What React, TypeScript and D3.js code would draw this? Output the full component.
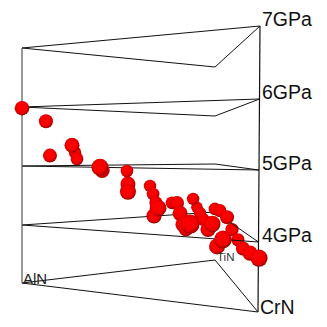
import React from 'react'
import * as d3 from 'd3'

const width = 327
const height = 327

const pressureTicks = [7, 6, 5, 4]
const pressureLabels = ['7GPa', '6GPa', '5GPa', '4GPa']

// share of CrN along the front edge, pressure in GPa, apparent sphere size
const crN = [
  0, 0.101, 0.118, 0.211, 0.224, 0.232, 0.338, 0.329, 0.443, 0.447, 0.447, 0.54, 0.553, 0.565,
  0.557, 0.574, 0.633, 0.654, 0.667, 0.679, 0.692, 0.709, 0.722, 0.738, 0.751, 0.764, 0.785, 0.802,
  0.814, 0.835, 0.865, 0.886, 0.823, 0.848, 0.911, 0.932, 0.962, 1
]
const gpa = [
  5.98, 5.75, 5.18, 5.35, 5.23, 5.13, 4.95, 5.0, 4.95, 4.75, 4.63, 4.73, 4.61, 4.48,
  4.28, 4.4, 4.49, 4.49, 4.34, 4.18, 4.12, 4.19, 4.56, 4.44, 4.36, 4.27, 4.13, 4.21,
  4.43, 4.41, 4.32, 4.15, 3.89, 4.0, 4.01, 3.89, 3.83, 3.77
]
const size = [
  7.3, 7, 7, 7.5, 6.2, 6.4, 7.5, 8.5, 6.3, 7.5, 8, 6.2, 6.4, 6.6,
  7.6, 8.4, 6.4, 7, 7.5, 7.5, 7.6, 9.6, 6.2, 5.8, 6.2, 6.4, 7.6, 8.4,
  6.3, 6.5, 7, 6.6, 8, 8.8, 6.6, 7, 7.6, 8.6
]
// spheres that sit behind the wire frame
const behindFrame = [31, 34]

// each corner of the prism has its own pressure scale
const levels = [3, 4, 5, 6, 7]
const leftY = d3.scaleLinear().domain(levels).range([283, 225, 166, 107, 48])
const rightY = d3.scaleLinear().domain(levels).range([312, 242, 170, 99, 26])
const backY = d3.scaleLinear().domain(levels).range([260, 212, 164, 116, 67])
const rightX = d3.scaleLinear().domain([3, 7]).range([258, 260])
const leftX = 22
const backX = 215

const frontX = d3.scaleLinear().domain([0, 1]).range([leftX, 259])

const line = d3.line()

const spheres = crN
  .map((c, i) => ({
    x: frontX(c),
    y: d3.interpolateNumber(leftY(gpa[i]), rightY(gpa[i]))(c),
    r: size[i],
    behind: behindFrame.includes(i)
  }))
  .sort((a, b) => d3.ascending(a.r, b.r))

const Sphere = ({ x, y, r }: { x: number; y: number; r: number }) => (
  <circle cx={x} cy={y} r={r} fill="url(#ball)" />
)

const App = () => {
  return (
    <svg
      width={width}
      height={height}
      style={{ position: 'absolute', left: 0, top: 0, fontFamily: '"Liberation Sans", Arial, sans-serif' }}
    >
      <defs>
        <radialGradient id="ball" cx="0.46" cy="0.44" r="0.56">
          <stop offset="0" stopColor="#ff0000" />
          <stop offset="0.55" stopColor="#f80000" />
          <stop offset="0.8" stopColor="#d80000" />
          <stop offset="1" stopColor="#8e0000" />
        </radialGradient>
      </defs>

      {spheres.filter(d => d.behind).map((d, i) => <Sphere key={i} {...d} />)}

      <g fill="none" stroke="#111" strokeWidth={1}>
        {levels.map(p => (
          <path
            key={p}
            d={line([
              [leftX, leftY(p)],
              [rightX(p), rightY(p)],
              [backX, backY(p)],
              [leftX, leftY(p)]
            ])!}
          />
        ))}
        <path d={line([[leftX, leftY(3)], [leftX, leftY(7)]])!} stroke="#555" strokeWidth={1.2} />
        <path d={line([[rightX(3), rightY(3)], [rightX(7), rightY(7)]])!} strokeWidth={1.2} />
      </g>

      {spheres.filter(d => !d.behind).map((d, i) => <Sphere key={i} {...d} />)}

      <g fontSize={19.5} fill="#111">
        {pressureTicks.map((p, i) => (
          <text key={p} x={262} y={rightY(p)}>
            {pressureLabels[i]}
          </text>
        ))}
        <text x={260} y={rightY(3) + 2}>CrN</text>
      </g>
      <text x={leftX + 1} y={284} fontSize={15} fill="#222">AlN</text>
      <text x={backX + 2} y={261} fontSize={11.5} fill="#333">TiN</text>
    </svg>
  )
}

export default App
